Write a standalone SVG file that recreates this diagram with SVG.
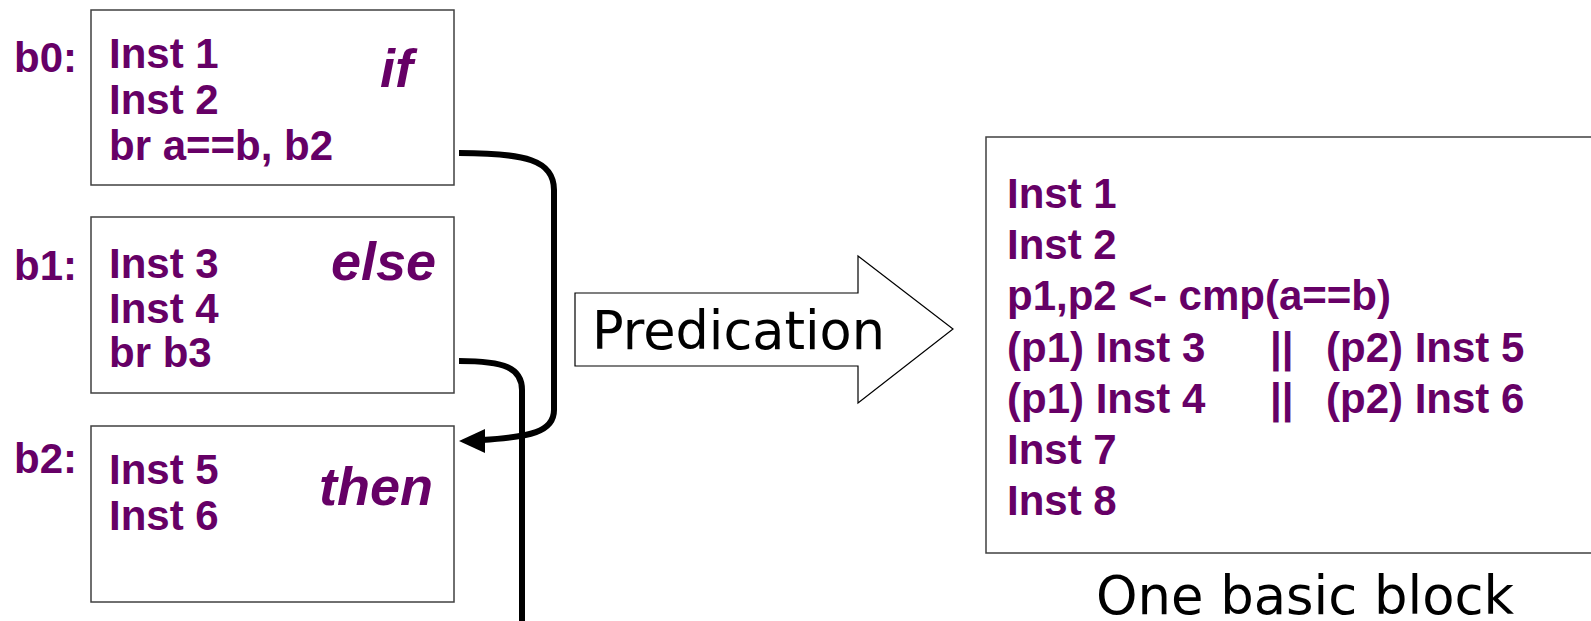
<svg xmlns="http://www.w3.org/2000/svg" width="1591" height="621" viewBox="0 0 1591 621">
<style>
.box{fill:#fff;stroke:#404040;stroke-width:1.5}
.code{font-family:"Liberation Sans",Arial,sans-serif;font-weight:bold;font-size:42px;fill:#660066}
.kw{font-family:"Liberation Sans",Arial,sans-serif;font-weight:bold;font-style:italic;font-size:54px;fill:#660066}
.plain{font-family:"DejaVu Sans",Verdana,sans-serif;fill:#000}
.conn{fill:none;stroke:#000;stroke-width:6}
</style>
<rect width="1591" height="621" fill="#fff"/>
<g id="b0">
<rect class="box" x="91" y="10" width="363" height="175"/>
<text class="code" x="14" y="72">b0:</text>
<text class="code" x="109" y="68">Inst 1</text>
<text class="code" x="109" y="114">Inst 2</text>
<text class="code" x="109" y="160">br a==b, b2</text>
<text class="kw" x="380" y="87">if</text>
</g>
<g id="b1">
<rect class="box" x="91" y="217" width="363" height="176"/>
<text class="code" x="14" y="280">b1:</text>
<text class="code" x="109" y="278">Inst 3</text>
<text class="code" x="109" y="323">Inst 4</text>
<text class="code" x="109" y="367">br b3</text>
<text class="kw" x="331" y="280">else</text>
</g>
<g id="b2">
<rect class="box" x="91" y="426" width="363" height="176"/>
<text class="code" x="14" y="473">b2:</text>
<text class="code" x="109" y="484">Inst 5</text>
<text class="code" x="109" y="530">Inst 6</text>
<text class="kw" x="319" y="505">then</text>
</g>
<g id="predication">
<polygon points="575,293 858,293 858,256 953,329 858,403 858,366 575,366" fill="#fff" stroke="#000" stroke-width="1.2"/>
<text class="plain" x="592" y="349" font-size="54" textLength="293" lengthAdjust="spacingAndGlyphs">Predication</text>
</g>
<g id="merged">
<rect class="box" x="986" y="137" width="620" height="416"/>
<text class="code" x="1007" y="208">Inst 1</text>
<text class="code" x="1007" y="259">Inst 2</text>
<text class="code" x="1007" y="310">p1,p2 &lt;- cmp(a==b)</text>
<text class="code" x="1007" y="362">(p1) Inst 3</text>
<text class="code" x="1270" y="362">||</text>
<text class="code" x="1326" y="362">(p2) Inst 5</text>
<text class="code" x="1007" y="413">(p1) Inst 4</text>
<text class="code" x="1270" y="413">||</text>
<text class="code" x="1326" y="413">(p2) Inst 6</text>
<text class="code" x="1007" y="464">Inst 7</text>
<text class="code" x="1007" y="515">Inst 8</text>
<text class="plain" x="1096" y="614" font-size="53" textLength="418" lengthAdjust="spacingAndGlyphs">One basic block</text>
</g>
<g id="connectors">
<path class="conn" d="M 459 153 C 525 153, 554 160, 554 190 L 554 410 C 554 432, 530 437, 482 440"/>
<polygon points="459,441 485,429 485,453" fill="#000"/>
<path class="conn" d="M 459 361 C 505 361, 522 368, 522 390 L 522 625"/>
</g>
</svg>
